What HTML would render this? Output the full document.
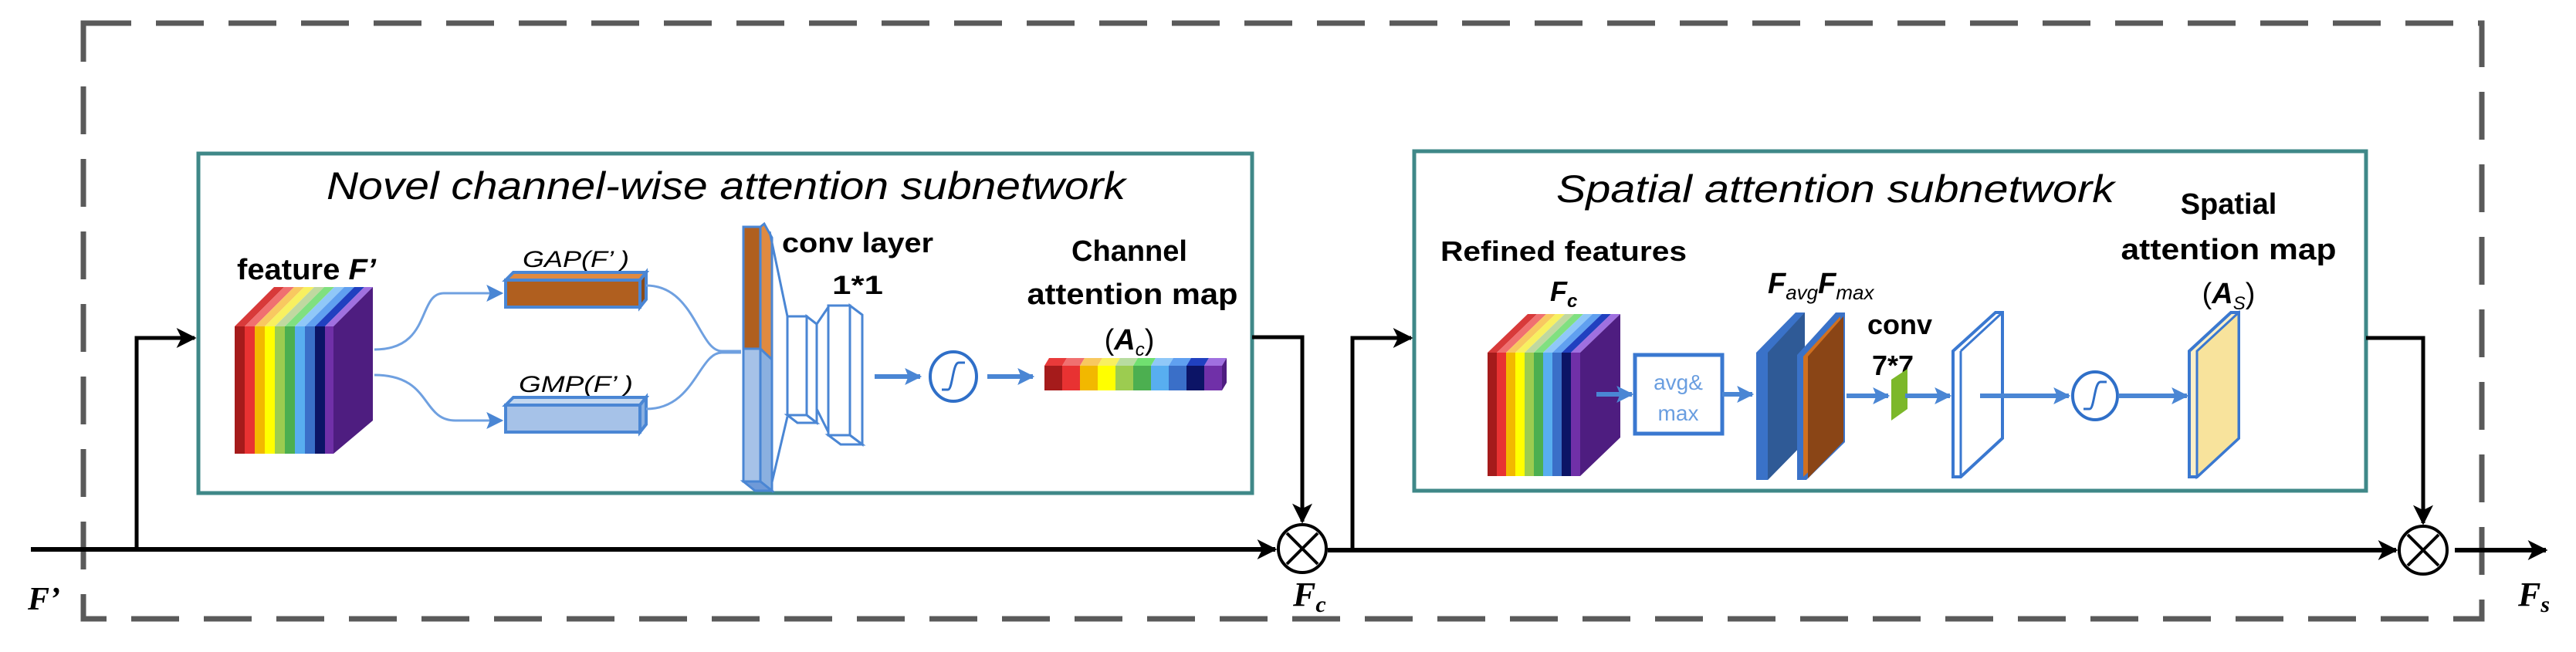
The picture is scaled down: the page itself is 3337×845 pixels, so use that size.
<!DOCTYPE html>
<html><head><meta charset="utf-8"><style>
html,body{margin:0;padding:0;background:#fff;}
svg{display:block;}
.t{font-family:"Liberation Sans",sans-serif;}
</style></head><body>
<svg width="3337" height="845" viewBox="0 0 3337 845" xmlns="http://www.w3.org/2000/svg">
<defs>
<marker id="ak" markerWidth="10" markerHeight="10" refX="9" refY="5" orient="auto" markerUnits="userSpaceOnUse" viewBox="0 0 10 10"><path d="M0,0 L10,5 L0,10 L2,5 Z" fill="#000"/></marker>
<marker id="ab" viewBox="0 0 10 10" refX="9" refY="5" markerWidth="22" markerHeight="22" orient="auto" markerUnits="userSpaceOnUse"><path d="M0,0 L10,5 L0,10 L2,5 Z" fill="#4a86d4"/></marker>
<marker id="abk" viewBox="0 0 10 10" refX="9" refY="5" markerWidth="26" markerHeight="26" orient="auto" markerUnits="userSpaceOnUse"><path d="M0,0 L10,5 L0,10 L2.5,5 Z" fill="#000"/></marker>
</defs>

<!-- outer dashed -->
<rect x="108" y="30" width="3107" height="772" fill="none" stroke="#5a5a5a" stroke-width="7" stroke-dasharray="62 32"/>

<!-- subnetwork boxes -->
<rect x="257" y="199" width="1365" height="440" fill="none" stroke="#3f8888" stroke-width="5"/>
<rect x="1832" y="196" width="1233" height="440" fill="none" stroke="#3f8888" stroke-width="5"/>

<!-- main black lines -->
<g stroke="#000" fill="none">
<line x1="40" y1="712" x2="1652" y2="712" stroke-width="6" marker-end="url(#abk)"/>
<polyline points="177,712 177,438 252,438" stroke-width="5" marker-end="url(#abk)"/>
<polyline points="1622,437 1687,437 1687,676" stroke-width="5" marker-end="url(#abk)"/>
<line x1="1720" y1="713" x2="3104" y2="713" stroke-width="6" marker-end="url(#abk)"/>
<polyline points="1752,713 1752,438 1828,438" stroke-width="5" marker-end="url(#abk)"/>
<polyline points="3065,438 3139,438 3139,678" stroke-width="5" marker-end="url(#abk)"/>
<line x1="3180" y1="713" x2="3298" y2="713" stroke-width="6" marker-end="url(#abk)"/>
<circle cx="1687" cy="711" r="31" stroke-width="4" fill="#fff"/>
<line x1="1667" y1="691" x2="1707" y2="731" stroke-width="4"/><line x1="1707" y1="691" x2="1667" y2="731" stroke-width="4"/>
<circle cx="3139" cy="713" r="31" stroke-width="4" fill="#fff"/>
<line x1="3119" y1="693" x2="3159" y2="733" stroke-width="4"/><line x1="3159" y1="693" x2="3119" y2="733" stroke-width="4"/>
</g>
<text x="36" y="790" class="t" style="font-family:'Liberation Serif',serif;font-weight:bold;font-style:italic;font-size:42px">F’</text>
<text x="1675" y="785" style="font-family:'Liberation Serif',serif;font-weight:bold;font-style:italic;font-size:44px">F<tspan font-size="30" dy="8">c</tspan></text>
<text x="3262" y="785" style="font-family:'Liberation Serif',serif;font-weight:bold;font-style:italic;font-size:44px">F<tspan font-size="30" dy="8">s</tspan></text>

<!-- titles -->
<text x="423" y="258" class="t" font-style="italic" font-size="50" textLength="1035" lengthAdjust="spacingAndGlyphs">Novel channel-wise attention subnetwork</text>
<text x="2016" y="262" class="t" font-style="italic" font-size="50" textLength="723" lengthAdjust="spacingAndGlyphs">Spatial attention subnetwork</text>

<!-- ===== Channel subnetwork ===== -->
<text x="307" y="362" class="t" font-weight="bold" font-size="38" textLength="180" lengthAdjust="spacingAndGlyphs">feature <tspan font-style="italic">F’</tspan></text>
<!-- rainbow block 1 -->
<g transform="matrix(1,0,51,-51,304,423)">
<rect x="0" y="0" width="13" height="1" fill="#d83a3a"/><rect x="13" y="0" width="13" height="1" fill="#f07070"/><rect x="26" y="0" width="13" height="1" fill="#f8c860"/><rect x="39" y="0" width="13" height="1" fill="#f8f060"/><rect x="52" y="0" width="13" height="1" fill="#c0d8a0"/><rect x="65" y="0" width="13" height="1" fill="#80e080"/><rect x="78" y="0" width="13" height="1" fill="#90c8f8"/><rect x="91" y="0" width="13" height="1" fill="#60a0f0"/><rect x="104" y="0" width="13" height="1" fill="#2040c0"/><rect x="117" y="0" width="11" height="1" fill="#a070e0"/>
</g>
<g>
<rect x="304" y="423" width="13" height="165" fill="#a51b1b"/><rect x="317" y="423" width="13" height="165" fill="#e83232"/><rect x="330" y="423" width="13" height="165" fill="#f2b800"/><rect x="343" y="423" width="13" height="165" fill="#ffff00"/><rect x="356" y="423" width="13" height="165" fill="#9ccc50"/><rect x="369" y="423" width="13" height="165" fill="#4caf50"/><rect x="382" y="423" width="13" height="165" fill="#58aef0"/><rect x="395" y="423" width="13" height="165" fill="#3a6fc8"/><rect x="408" y="423" width="13" height="165" fill="#0c1466"/><rect x="421" y="423" width="11" height="165" fill="#7030a8"/>
</g>
<polygon points="432,423 483,372 483,545 432,588" fill="#4e1d80"/>

<!-- GAP / GMP -->
<text x="677" y="346" class="t" font-style="italic" font-size="30" textLength="138" lengthAdjust="spacingAndGlyphs">GAP(F’ )</text>
<polygon points="655,363 665,353 837,353 829,363" fill="#e08a40" stroke="#4a86d4" stroke-width="4"/>
<rect x="655" y="363" width="174" height="35" fill="#b05f1f" stroke="#4a86d4" stroke-width="4"/>
<polygon points="829,363 837,353 837,388 829,398" fill="#8a4a18" stroke="#4a86d4" stroke-width="4"/>
<text x="672" y="508" class="t" font-style="italic" font-size="30" textLength="148" lengthAdjust="spacingAndGlyphs">GMP(F’ )</text>
<polygon points="655,525 665,515 837,515 829,525" fill="#c4d8f0" stroke="#4a86d4" stroke-width="4"/>
<rect x="655" y="525" width="174" height="35" fill="#a6c2e8" stroke="#4a86d4" stroke-width="4"/>
<polygon points="829,525 837,515 837,550 829,560" fill="#8ab0e0" stroke="#4a86d4" stroke-width="4"/>
<g fill="none" stroke="#6fa0e0" stroke-width="3">
<path d="M485,453 C560,453 540,380 575,380 L650,380" marker-end="url(#ab)"/>
<path d="M485,486 C560,486 545,545 590,545 L650,545" marker-end="url(#ab)"/>
<path d="M837,370 C900,370 905,455 935,455 L960,455"/>
<path d="M837,530 C900,530 905,457 935,457 L960,457"/>
</g>

<!-- tall stacked bar -->
<rect x="963" y="294" width="22" height="158" fill="#b05f1f" stroke="#4a86d4" stroke-width="3"/>
<polygon points="985,294 990,290 1000,308 1000,466 985,452" fill="#e08a40" stroke="#4a86d4" stroke-width="3"/>
<rect x="963" y="452" width="22" height="172" fill="#a6c2e8" stroke="#4a86d4" stroke-width="3"/>
<polygon points="985,452 1000,466 1000,636 985,624" fill="#8ab0e0" stroke="#4a86d4" stroke-width="3"/>
<polygon points="963,624 985,624 1000,636 978,636" fill="#6f9ad8" stroke="#4a86d4" stroke-width="3"/>
<g fill="none" stroke="#4a86d4" stroke-width="3">
<line x1="997" y1="300" x2="1020" y2="410"/><line x1="1000" y1="625" x2="1020" y2="540"/>
<line x1="1058" y1="420" x2="1073" y2="398"/><line x1="1058" y1="530" x2="1073" y2="560"/>
</g>
<g fill="#fff" stroke="#4a86d4" stroke-width="3">
<rect x="1020" y="410" width="25" height="128"/><polygon points="1045,410 1058,420 1058,548 1045,538"/><polygon points="1020,538 1045,538 1058,548 1033,548"/>
<rect x="1073" y="396" width="28" height="168"/><polygon points="1101,396 1117,408 1117,576 1101,564"/><polygon points="1073,564 1101,564 1117,576 1089,576"/>
</g>
<text x="1013" y="327" class="t" font-weight="bold" font-size="36" textLength="196" lengthAdjust="spacingAndGlyphs">conv layer</text>
<text x="1078" y="381" class="t" font-weight="bold" font-size="34" textLength="66" lengthAdjust="spacingAndGlyphs">1*1</text>
<line x1="1133" y1="488" x2="1192" y2="488" stroke="#4a86d4" stroke-width="6" marker-end="url(#ab)"/>
<ellipse cx="1235" cy="488" rx="30" ry="32" fill="#fff" stroke="#2f6fc8" stroke-width="4"/>
<path d="M1220,505 L1228,505 C1234,505 1234,470 1242,470 L1250,470" fill="none" stroke="#2f6fc8" stroke-width="3"/>
<line x1="1279" y1="488" x2="1338" y2="488" stroke="#4a86d4" stroke-width="6" marker-end="url(#ab)"/>
<!-- color bar -->
<g transform="matrix(1,0,6,-10,1353,474)">
<rect x="0" y="0" width="23" height="1" fill="#e83a3a"/><rect x="23" y="0" width="23" height="1" fill="#f07070"/><rect x="46" y="0" width="23" height="1" fill="#f8c860"/><rect x="69" y="0" width="23" height="1" fill="#f8f060"/><rect x="92" y="0" width="23" height="1" fill="#b8dca0"/><rect x="115" y="0" width="23" height="1" fill="#70e070"/><rect x="138" y="0" width="23" height="1" fill="#90c8f8"/><rect x="161" y="0" width="23" height="1" fill="#60a0f0"/><rect x="184" y="0" width="23" height="1" fill="#2040c0"/><rect x="207" y="0" width="23" height="1" fill="#a070e0"/>
</g>
<g>
<rect x="1353" y="474" width="23" height="32" fill="#a51b1b"/><rect x="1376" y="474" width="23" height="32" fill="#e83232"/><rect x="1399" y="474" width="23" height="32" fill="#f2b800"/><rect x="1422" y="474" width="23" height="32" fill="#ffff00"/><rect x="1445" y="474" width="23" height="32" fill="#9ccc50"/><rect x="1468" y="474" width="23" height="32" fill="#4caf50"/><rect x="1491" y="474" width="23" height="32" fill="#58aef0"/><rect x="1514" y="474" width="23" height="32" fill="#3a6fc8"/><rect x="1537" y="474" width="23" height="32" fill="#0c1466"/><rect x="1560" y="474" width="23" height="32" fill="#7030a8"/>
</g>
<polygon points="1583,474 1589,464 1589,496 1583,506" fill="#4e1d80"/>
<text x="1463" y="338" class="t" font-weight="bold" font-size="38" text-anchor="middle">Channel</text>
<text x="1467" y="394" class="t" font-weight="bold" font-size="38" text-anchor="middle" textLength="273" lengthAdjust="spacingAndGlyphs">attention map</text>
<text x="1463" y="453" class="t" font-size="38" text-anchor="middle">(<tspan font-weight="bold" font-style="italic">A</tspan><tspan font-size="24" dy="8" font-style="italic">c</tspan><tspan dy="-8">)</tspan></text>

<!-- ===== Spatial subnetwork ===== -->
<text x="1866" y="338" class="t" font-weight="bold" font-size="36" textLength="319" lengthAdjust="spacingAndGlyphs">Refined features</text>
<text x="2008" y="390" class="t" font-weight="bold" font-style="italic" font-size="36">F<tspan font-size="24" dy="8">c</tspan></text>
<g transform="matrix(1,0,52,-50,1927,457)">
<rect x="0" y="0" width="12" height="1" fill="#d83a3a"/><rect x="12" y="0" width="12" height="1" fill="#f07070"/><rect x="24" y="0" width="12" height="1" fill="#f8c860"/><rect x="36" y="0" width="12" height="1" fill="#f8f060"/><rect x="48" y="0" width="12" height="1" fill="#c0d8a0"/><rect x="60" y="0" width="12" height="1" fill="#80e080"/><rect x="72" y="0" width="12" height="1" fill="#90c8f8"/><rect x="84" y="0" width="12" height="1" fill="#60a0f0"/><rect x="96" y="0" width="12" height="1" fill="#2040c0"/><rect x="108" y="0" width="12" height="1" fill="#a070e0"/>
</g>
<g>
<rect x="1927" y="457" width="12" height="160" fill="#a51b1b"/><rect x="1939" y="457" width="12" height="160" fill="#e83232"/><rect x="1951" y="457" width="12" height="160" fill="#f2b800"/><rect x="1963" y="457" width="12" height="160" fill="#ffff00"/><rect x="1975" y="457" width="12" height="160" fill="#9ccc50"/><rect x="1987" y="457" width="12" height="160" fill="#4caf50"/><rect x="1999" y="457" width="12" height="160" fill="#58aef0"/><rect x="2011" y="457" width="12" height="160" fill="#3a6fc8"/><rect x="2023" y="457" width="12" height="160" fill="#0c1466"/><rect x="2035" y="457" width="12" height="160" fill="#7030a8"/>
</g>
<polygon points="2047,457 2099,407 2099,567 2047,617" fill="#4e1d80"/>
<line x1="2068" y1="511" x2="2114" y2="511" stroke="#4a86d4" stroke-width="6" marker-end="url(#ab)"/>
<rect x="2118" y="460" width="113" height="102" fill="#fff" stroke="#3a78d0" stroke-width="5"/>
<text x="2174" y="505" class="t" font-size="28" fill="#6a9ee0" text-anchor="middle">avg&amp;</text>
<text x="2174" y="545" class="t" font-size="28" fill="#6a9ee0" text-anchor="middle">max</text>
<line x1="2231" y1="511" x2="2270" y2="511" stroke="#4a86d4" stroke-width="6" marker-end="url(#ab)"/>
<!-- Favg / Fmax slabs -->
<polygon points="2275,457 2326,405 2338,405 2338,573 2290,622 2275,622" fill="#3a72c8"/>
<polygon points="2290,457 2338,405 2338,573 2290,622" fill="#2f5a96"/>
<polygon points="2328,460 2378,405 2390,405 2390,573 2340,622 2328,622" fill="#3a72c8"/>
<polygon points="2336,462 2384,410 2384,572 2336,618" fill="#d07020"/>
<polygon points="2342,462 2388,410 2388,572 2342,620" fill="#8a4516"/>
<text x="2290" y="380" class="t" font-weight="bold" font-style="italic" font-size="38">F<tspan font-size="26" dy="8" font-weight="normal">avg</tspan><tspan dy="-8">F</tspan><tspan font-size="26" dy="8" font-weight="normal">max</tspan></text>
<text x="2419" y="433" class="t" font-weight="bold" font-size="36">conv</text>
<text x="2425" y="486" class="t" font-weight="bold" font-size="36">7*7</text>
<line x1="2392" y1="513" x2="2446" y2="513" stroke="#4a86d4" stroke-width="6" marker-end="url(#ab)"/>
<polygon points="2450,492 2471,478 2471,530 2450,545" fill="#7cb82a"/>
<line x1="2468" y1="513" x2="2526" y2="513" stroke="#4a86d4" stroke-width="6" marker-end="url(#ab)"/>
<polygon points="2530,455 2585,405 2594,405 2594,568 2540,618 2530,618" fill="#fff" stroke="#3a78d0" stroke-width="4"/>
<line x1="2540" y1="455" x2="2540" y2="618" stroke="#3a78d0" stroke-width="3"/>
<line x1="2540" y1="455" x2="2594" y2="405" stroke="#3a78d0" stroke-width="3"/>
<line x1="2565" y1="513" x2="2680" y2="513" stroke="#4a86d4" stroke-width="6" marker-end="url(#ab)"/>
<ellipse cx="2714" cy="513" rx="29" ry="31" fill="#fff" stroke="#2f6fc8" stroke-width="4"/>
<path d="M2699,530 L2707,530 C2713,530 2713,495 2721,495 L2729,495" fill="none" stroke="#2f6fc8" stroke-width="3"/>
<line x1="2744" y1="513" x2="2833" y2="513" stroke="#4a86d4" stroke-width="6" marker-end="url(#ab)"/>
<polygon points="2836,455 2890,405 2900,405 2900,568 2846,618 2836,618" fill="#fbf0c8" stroke="#3a78d0" stroke-width="4"/>
<polygon points="2846,455 2900,405 2900,568 2846,618" fill="#f8e39c" stroke="#3a78d0" stroke-width="3"/>
<text x="2887" y="277" class="t" font-weight="bold" font-size="38" text-anchor="middle">Spatial</text>
<text x="2887" y="336" class="t" font-weight="bold" font-size="38" text-anchor="middle" textLength="279" lengthAdjust="spacingAndGlyphs">attention map</text>
<text x="2887" y="393" class="t" font-size="38" text-anchor="middle">(<tspan font-weight="bold" font-style="italic">A</tspan><tspan font-size="24" dy="8" font-style="italic">S</tspan><tspan dy="-8">)</tspan></text>
</svg>
</body></html>
